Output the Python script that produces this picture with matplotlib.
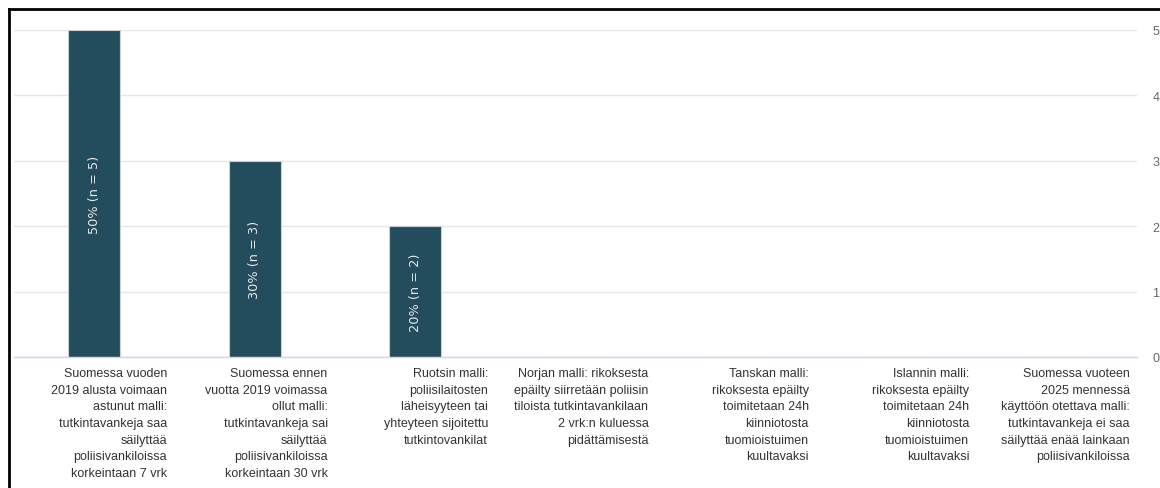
import matplotlib
matplotlib.use("Agg")
import matplotlib.pyplot as plt
import matplotlib.transforms as mtransforms
from matplotlib.lines import Line2D

categories = [
    "Suomessa vuoden\n2019 alusta voimaan\nastunut malli:\ntutkintavankeja saa\nsäilyttää\npoliisivankiloissa\nkorkeintaan 7 vrk",
    "Suomessa ennen\nvuotta 2019 voimassa\nollut malli:\ntutkintavankeja sai\nsäilyttää\npoliisivankiloissa\nkorkeintaan 30 vrk",
    "Ruotsin malli:\npoliisilaitosten\nläheisyyteen tai\nyhteyteen sijoitettu\ntutkintovankilat",
    "Norjan malli: rikoksesta\nepäilty siirretään poliisin\ntiloista tutkintavankilaan\n2 vrk:n kuluessa\npidättämisestä",
    "Tanskan malli:\nrikoksesta epäilty\ntoimitetaan 24h\nkiinniotosta\ntuomioistuimen\nkuultavaksi",
    "Islannin malli:\nrikoksesta epäilty\ntoimitetaan 24h\nkiinniotosta\ntuomioistuimen\nkuultavaksi",
    "Suomessa vuoteen\n2025 mennessä\nkäyttöön otettava malli:\ntutkintavankeja ei saa\nsäilyttää enää lainkaan\npoliisivankiloissa",
]
counts = [5, 3, 2, 0, 0, 0, 0]
percents = [50, 30, 20, 0, 0, 0, 0]
yticks = [0, 1, 2, 3, 4, 5]

W, H = 1160, 489
fig = plt.figure(figsize=(W / 100, H / 100), dpi=100)
fig.patch.set_facecolor("white")

ax = fig.add_axes([14 / W, 1 - 358 / H, (1137 - 14) / W, (358 - 31) / H])
ax.set_facecolor("white")

x = list(range(len(categories)))
bars = ax.bar(x, counts, width=52 / 160.5, color="#234d5c",
              edgecolor="#c8d0d4", linewidth=0.8, zorder=3)

ax.set_xlim(-0.5, len(categories) - 0.5)
ax.set_ylim(0, 5)
ax.set_yticks(yticks)
ax.yaxis.tick_right()
ax.tick_params(axis="y", length=0, pad=11, labelsize=9, labelcolor="#666666")
for lab in ax.get_yticklabels():
    lab.set_fontfamily("Liberation Sans")
    lab.set_horizontalalignment("left")
ax.set_xticks([])
ax.grid(axis="y", color="#e6e6e6", linewidth=1, zorder=0)
for s in ["top", "right", "left"]:
    ax.spines[s].set_visible(False)
ax.spines["bottom"].set_color("#ccd6eb")
ax.spines["bottom"].set_linewidth(1)
ax.spines["bottom"].set_zorder(4)

# data labels inside bars
for xi, c, p in zip(x, counts, percents):
    if c > 0:
        ax.text(xi, c / 2, f"{p}% (n = {c})", rotation=90, ha="center",
                va="center", color="#e8e8e8", fontsize=9.3,
                fontfamily="DejaVu Sans", zorder=5)

# category labels
trans = mtransforms.blended_transform_factory(ax.transData, ax.transAxes)
for xi, lab in zip(x, categories):
    ax.text(xi + 0.455, -10 / 327, lab, transform=trans, ha="right", va="top",
            multialignment="right", fontsize=9, color="#333333",
            fontfamily="Liberation Sans", linespacing=1.52, clip_on=False)

# screenshot frame
fig.add_artist(Line2D([8.5 / W, 8.5 / W], [0, 1 - 10 / H], transform=fig.transFigure,
                      color="black", linewidth=2))
fig.add_artist(Line2D([8.5 / W, 1], [1 - 10 / H, 1 - 10 / H], transform=fig.transFigure,
                      color="black", linewidth=2))

fig.savefig("out.png", dpi=100, facecolor="white")
